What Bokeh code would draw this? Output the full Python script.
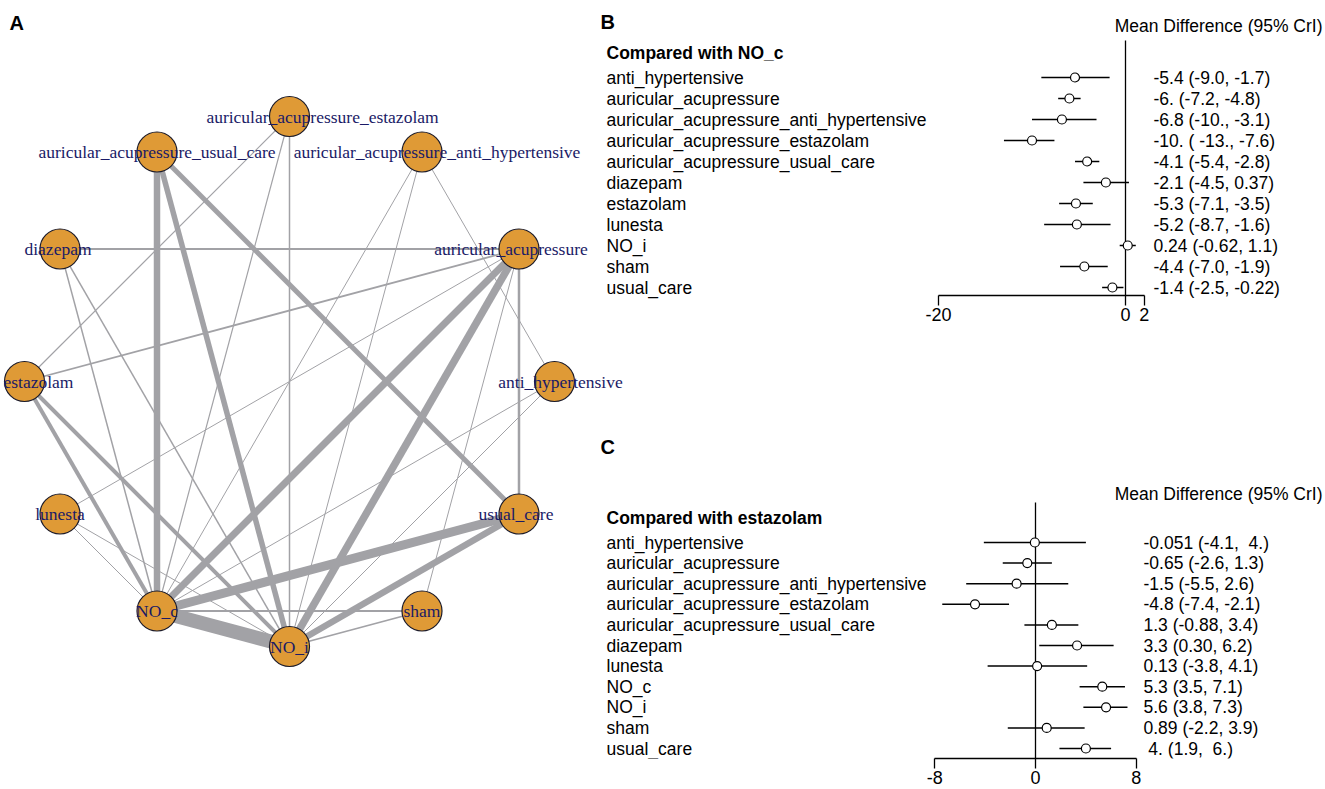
import numpy as np
from bokeh.plotting import figure
from bokeh.layouts import row, column
from bokeh.models import (Range1d, LinearAxis, FixedTicker, ColumnDataSource,
                          LabelSet)
from bokeh.core.properties import value
from bokeh.embed import file_html
from bokeh.resources import INLINE

# ---------------- data ----------------
treatments = ["anti_hypertensive", "auricular_acupressure",
              "auricular_acupressure_anti_hypertensive",
              "auricular_acupressure_estazolam",
              "auricular_acupressure_usual_care", "diazepam", "estazolam",
              "lunesta", "NO_c", "NO_i", "sham", "usual_care"]

edge_from = ["auricular_acupressure_usual_care", "auricular_acupressure_usual_care",
             "auricular_acupressure_usual_care", "auricular_acupressure_estazolam",
             "auricular_acupressure_estazolam", "auricular_acupressure_estazolam",
             "auricular_acupressure_anti_hypertensive", "auricular_acupressure_anti_hypertensive",
             "auricular_acupressure_anti_hypertensive", "diazepam", "diazepam", "diazepam",
             "estazolam", "estazolam", "estazolam", "auricular_acupressure",
             "auricular_acupressure", "auricular_acupressure", "auricular_acupressure",
             "auricular_acupressure", "anti_hypertensive", "anti_hypertensive",
             "lunesta", "lunesta", "usual_care", "usual_care", "sham", "sham", "NO_c"]
edge_to = ["NO_c", "NO_i", "usual_care", "estazolam", "NO_c", "NO_i",
           "NO_c", "NO_i", "anti_hypertensive", "auricular_acupressure", "NO_c", "NO_i",
           "auricular_acupressure", "NO_c", "NO_i", "NO_c", "NO_i", "usual_care",
           "lunesta", "sham", "NO_c", "NO_i", "NO_c", "NO_i", "NO_c", "NO_i",
           "NO_c", "NO_i", "NO_i"]
edge_weight = [6.5, 5.5, 5, 1.2, 1.2, 1.5, 1, 1, 1, 1.8, 1.5, 1.5,
               1.8, 4, 4, 7, 7.5, 2.5, 1, 1, 1, 1, 1, 1, 9, 6.5, 1.8, 1.8, 14]

b_treat = ["anti_hypertensive", "auricular_acupressure",
           "auricular_acupressure_anti_hypertensive", "auricular_acupressure_estazolam",
           "auricular_acupressure_usual_care", "diazepam", "estazolam", "lunesta",
           "NO_i", "sham", "usual_care"]
b_md = [-5.4, -6.0, -6.8, -10.0, -4.1, -2.1, -5.3, -5.2, 0.24, -4.4, -1.4]
b_lo = [-9.0, -7.2, -10.0, -13.0, -5.4, -4.5, -7.1, -8.7, -0.62, -7.0, -2.5]
b_hi = [-1.7, -4.8, -3.1, -7.6, -2.8, 0.37, -3.5, -1.6, 1.1, -1.9, -0.22]
b_txt = ["-5.4 (-9.0, -1.7)", "-6. (-7.2, -4.8)", "-6.8 (-10., -3.1)",
         "-10. ( -13., -7.6)", "-4.1 (-5.4, -2.8)", "-2.1 (-4.5, 0.37)",
         "-5.3 (-7.1, -3.5)", "-5.2 (-8.7, -1.6)", "0.24 (-0.62, 1.1)",
         "-4.4 (-7.0, -1.9)", "-1.4 (-2.5, -0.22)"]
b_ticks = [-20, 0, 2]

c_treat = ["anti_hypertensive", "auricular_acupressure",
           "auricular_acupressure_anti_hypertensive", "auricular_acupressure_estazolam",
           "auricular_acupressure_usual_care", "diazepam", "lunesta", "NO_c",
           "NO_i", "sham", "usual_care"]
c_md = [-0.051, -0.65, -1.5, -4.8, 1.3, 3.3, 0.13, 5.3, 5.6, 0.89, 4.0]
c_lo = [-4.1, -2.6, -5.5, -7.4, -0.88, 0.30, -3.8, 3.5, 3.8, -2.2, 1.9]
c_hi = [4.0, 1.3, 2.6, -2.1, 3.4, 6.2, 4.1, 7.1, 7.3, 3.9, 6.0]
c_txt = ["-0.051 (-4.1,\u00a0 4.)", "-0.65 (-2.6, 1.3)", "-1.5 (-5.5, 2.6)",
         "-4.8 (-7.4, -2.1)", "1.3 (-0.88, 3.4)", "3.3 (0.30, 6.2)",
         "0.13 (-3.8, 4.1)", "5.3 (3.5, 7.1)", "5.6 (3.8, 7.3)",
         "0.89 (-2.2, 3.9)", "\u00a04. (1.9,\u00a0 6.)"]
c_ticks = [-8, 0, 8]

SANS = value("Liberation Sans")
SERIF = value("Liberation Serif")
FS = "17.5px"

# ---------------- panel A : network ----------------
WA, H = 650, 789
cx, cy, R = 289.0, 381.0, 265.0


def ax(px):
    return (px - cx) / R


def ay(py):
    return (cy - py) / R


pA = figure(width=WA, height=H, x_range=Range1d(ax(0), ax(WA)),
            y_range=Range1d(ay(H), ay(0)), output_backend="svg",
            toolbar_location=None, x_axis_type=None, y_axis_type=None,
            min_border=0, outline_line_color=None)
pA.grid.visible = False

ang = np.deg2rad(30.0 * np.arange(len(treatments)))
nx = np.cos(ang)
ny = np.sin(ang)
pos = {t: (nx[i], ny[i]) for i, t in enumerate(treatments)}
esrc = ColumnDataSource(dict(
    x0=[pos[a][0] for a in edge_from], y0=[pos[a][1] for a in edge_from],
    x1=[pos[b][0] for b in edge_to], y1=[pos[b][1] for b in edge_to],
    w=edge_weight))
pA.segment("x0", "y0", "x1", "y1", source=esrc, line_width="w",
           line_color="#a2a2a6")
pA.scatter(nx, ny, size=40, fill_color="#DF9A36", line_color="#1b1b2b",
           line_width=1.2)
label_dx = [6, -8, 15, 33, 0, -2, 14, 0, 0, 0, 0, -3]
nsrc = ColumnDataSource(dict(x=nx, y=ny, t=treatments, dx=label_dx))
pA.text("x", "y", text="t", source=nsrc, x_offset="dx", text_align="center",
        text_baseline="middle", text_font=SERIF, text_font_size="17.5px",
        text_color="#1a1a66")
pA.text(x=[ax(9)], y=[ay(22)], text=["A"], text_align="left",
        text_baseline="middle", text_font=SANS, text_font_style="bold",
        text_font_size="20px", text_color="black")


# ---------------- panels B, C : forest plots ----------------
X0 = 590
WB = 1325 - X0


def forest(treat, md, lo, hi, txt, ticks, title, letter, top, height,
           frame_bottom, axis_px, zero_px, kpx, row0, drow, letter_y, title_y,
           header_y, line_top, val_px, tick_out):
    def fx(px):
        return (px - zero_px) / kpx

    def fy(py):
        return (py - row0) / drow

    xr = Range1d(fx(X0), fx(X0 + WB))
    yr = Range1d(fy(frame_bottom), fy(top))
    p = figure(width=WB, height=height, x_range=xr, y_range=yr,
               output_backend="svg", toolbar_location=None,
               x_axis_type=None, y_axis_type=None, min_border_left=0,
               min_border_right=0, min_border_top=0,
               min_border_bottom=top + height - frame_bottom,
               outline_line_color=None, background_fill_alpha=0,
               border_fill_alpha=0)
    p.grid.visible = False
    n = len(treat)
    ys = list(range(n))
    src = ColumnDataSource(dict(y=ys, lab=treat, txt=txt,
                                xl=[xr.start] * n, xv=[fx(val_px)] * n))
    p.segment(x0=[0], y0=[fy(line_top)], x1=[0], y1=[fy(axis_px)],
              line_color="black", line_width=1.3)
    p.segment(x0=lo, y0=ys, x1=hi, y1=ys, line_color="black", line_width=1.5)
    p.scatter(md, ys, size=9, fill_color="white", line_color="black",
              line_width=1.2)
    p.add_layout(LabelSet(x="xl", y="y", text="lab", source=src, x_offset=16,
                          text_align="left", text_baseline="middle",
                          text_font=SANS, text_font_size=FS, text_color="black"))
    p.add_layout(LabelSet(x="xv", y="y", text="txt", source=src,
                          text_align="left", text_baseline="middle",
                          text_font=SANS, text_font_size=FS, text_color="black"))
    p.text(x=[xr.start], y=[fy(title_y)], text=[title], x_offset=16,
           text_align="left", text_baseline="middle", text_font=SANS,
           text_font_style="bold", text_font_size=FS, text_color="black")
    p.text(x=[xr.start], y=[fy(letter_y)], text=[letter], x_offset=10,
           text_align="left", text_baseline="middle", text_font=SANS,
           text_font_style="bold", text_font_size="20px", text_color="black")
    p.text(x=[xr.end], y=[fy(header_y)], text=["Mean Difference (95% CrI)"],
           x_offset=-3, text_align="right", text_baseline="middle",
           text_font=SANS, text_font_size=FS, text_color="black")
    axis = LinearAxis(ticker=FixedTicker(ticks=ticks), bounds=(min(ticks), max(ticks)),
                      axis_line_color="black", axis_line_width=1.3,
                      major_tick_line_color="black", major_tick_line_width=1.3,
                      major_tick_out=tick_out, major_tick_in=0,
                      minor_tick_out=0, minor_tick_in=0,
                      major_label_standoff=2,
                      major_label_text_font="Liberation Sans",
                      major_label_text_font_size="18px",
                      major_label_text_color="black",
                      major_label_overrides={t: str(t) for t in ticks})
    if axis_px != frame_bottom:
        axis.fixed_location = fy(axis_px)
    p.add_layout(axis, "below")
    return p


HB = 425
HC = H - HB
pB = forest(b_treat, b_md, b_lo, b_hi, b_txt, b_ticks, "Compared with NO_c", "B",
            top=0, height=HB, frame_bottom=HB - 40, axis_px=295, zero_px=1125,
            kpx=9.35, row0=77, drow=21, letter_y=21, title_y=52, header_y=25,
            line_top=40, val_px=1153, tick_out=10)
pC = forest(c_treat, c_md, c_lo, c_hi, c_txt, c_ticks, "Compared with estazolam", "C",
            top=HB, height=HC, frame_bottom=758, axis_px=758, zero_px=1035,
            kpx=12.6, row0=542, drow=20.6, letter_y=446, title_y=517,
            header_y=493, line_top=502, val_px=1143, tick_out=10)

layout = row(pA, column(pB, pC, margin=(0, 0, 0, -(WA - X0))))
open("out.html", "w").write(file_html(layout, INLINE))
